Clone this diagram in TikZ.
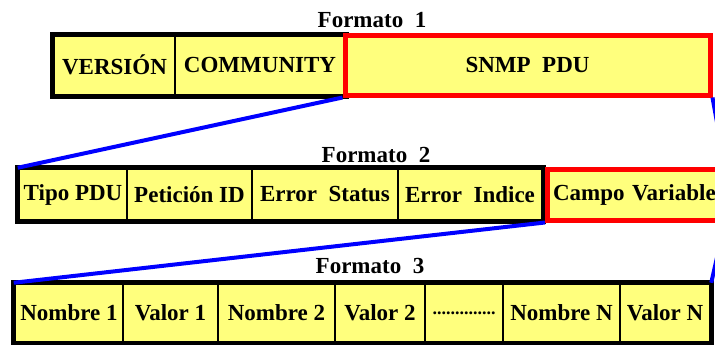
\documentclass[tikz,border=0pt]{standalone}
\usepackage{fontspec}
\setmainfont{Liberation Serif}
\definecolor{cellfill}{RGB}{255,255,125}
\definecolor{linkblue}{RGB}{0,0,255}
\definecolor{hilite}{RGB}{255,0,0}
\tikzset{
  cell/.style={rectangle, draw=black, line width=2.5pt, fill=cellfill, inner sep=0pt,
    font=\fontsize{23}{26}\selectfont\bfseries},
  hot/.style={cell, draw=hilite, line width=5pt},
  frame/.style={draw=black, line width=5pt},
  link/.style={draw=linkblue, line width=4pt},
  caption/.style={anchor=base, inner sep=0pt, font=\fontsize{23}{26}\selectfont\bfseries}
}
\newcommand{\cellat}[6]{% style, name, left, right, ymid, height, text
  \node[#1, minimum width={(#4)-(#3)}, minimum height=#6] (#2) at ({((#3)+(#4))/2}, #5)}
\begin{document}
\begin{tikzpicture}[x=1pt, y=-1pt]
\useasboundingbox (0,0) rectangle (715,345);
\begin{scope}
\clip (0,0) rectangle (715,345);

% ---- Formato 1
\node[caption] (t1) at (372,28) {Formato\ \ 1};
\cellat{cell}{ver}{54}{175}{65.25}{59.5pt} {VERSIÓN};
\cellat{cell}{com}{175}{345}{65.25}{59.5pt} {COMMUNITY};
\draw[frame] (ver.north west) rectangle (com.south east);
\cellat{hot}{pdu}{345}{710}{65.25}{59.5pt} {SNMP\ \ PDU};

% ---- Formato 2
\node[caption] (t2) at (376,162) {Formato\ \ 2};
\cellat{cell}{tipo}{19}{127}{194.5}{51pt} {Tipo PDU};
\cellat{cell}{pid}{127}{252}{194.5}{51pt} {Petición ID};
\cellat{cell}{est}{252}{398}{194.5}{51pt} {Error\ \ Status};
\cellat{cell}{ind}{398}{542}{194.5}{51pt} {Error\ \ Indice};
\draw[frame] (tipo.north west) rectangle (ind.south east);
\node[hot, minimum width=175pt, minimum height=51pt, anchor=west, text width=170pt, align=left]
  (campo) at (545,194.5) {\hspace*{3pt}Campo Variable};

% ---- Formato 3
\node[caption] (t3) at (370,273) {Formato\ \ 3};
\cellat{cell}{n1}{15}{123}{313}{58pt} {Nombre 1};
\cellat{cell}{v1}{123}{218}{313}{58pt} {Valor 1};
\cellat{cell}{n2}{218}{335}{313}{58pt} {Nombre 2};
\cellat{cell}{v2}{335}{425}{313}{58pt} {Valor 2};
\cellat{cell}{dots}{425}{503}{313}{58pt} {\fontsize{18}{20}\selectfont\raisebox{-3pt}{..............}};
\cellat{cell}{nN}{503}{620}{313}{58pt} {Nombre N};
\cellat{cell}{vN}{620}{710}{313}{58pt} {Valor N};
\draw[frame] (n1.north west) rectangle (vN.south east);

% ---- zoom connectors
\draw[link] (pdu.south west) -- (tipo.north west);
\draw[link] (pdu.south east) -- (campo.north east);
\draw[link] (campo.south west) -- (n1.north west);
\draw[link] (campo.south east) -- (vN.north east);
\end{scope}
\end{tikzpicture}
\end{document}
